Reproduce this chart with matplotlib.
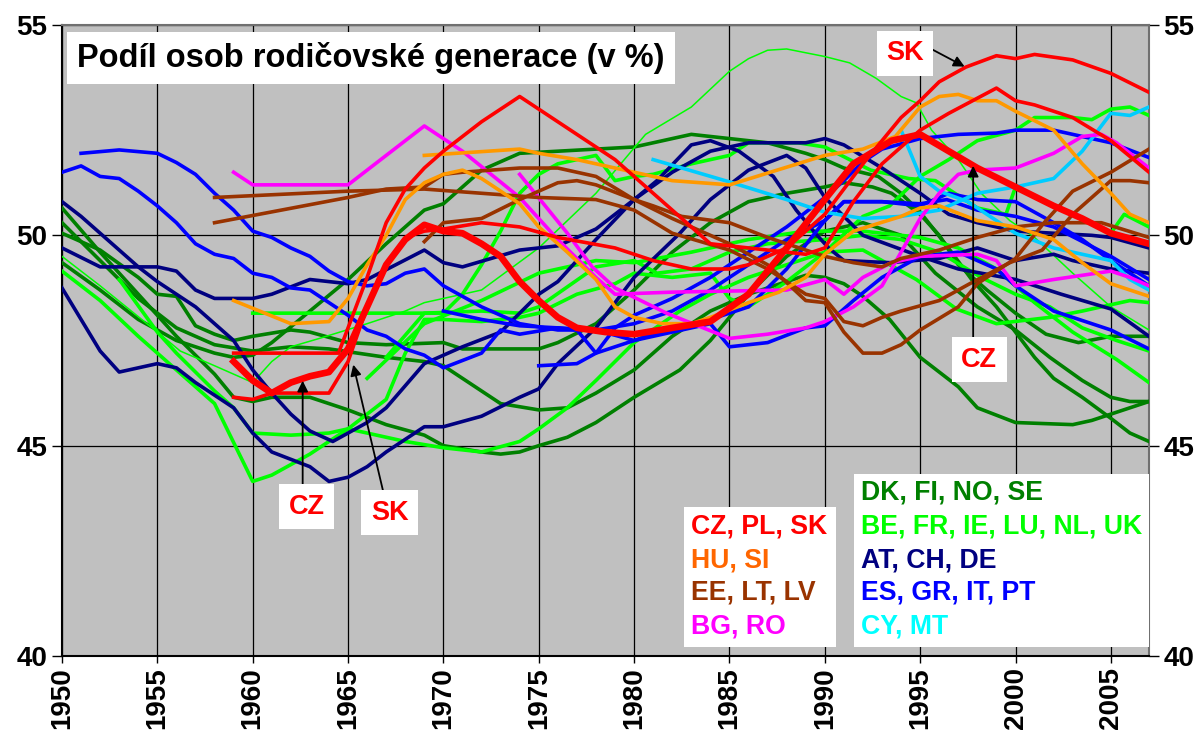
import matplotlib
matplotlib.use('Agg')
import matplotlib.pyplot as plt
from matplotlib.patches import Rectangle

plt.rcParams['font.family'] = ['Liberation Sans', 'DejaVu Sans']

# red group: CZ, PL, SK
cz_years = [1959, 1960, 1961, 1962, 1963, 1964, 1965, 1966, 1967, 1968, 1969, 1970, 1971, 1972, 1973, 1974, 1975, 1976, 1977, 1978.5, 1980, 1982, 1984, 1986, 1988, 1990, 1991.5, 1993.5, 1995, 1996.5, 1998, 2000, 2002, 2003.5, 2005, 2007]
cz_vals = [47.0, 46.55, 46.25, 46.5, 46.65, 46.75, 47.3, 48.3, 49.3, 49.9, 50.25, 50.1, 50.05, 49.8, 49.5, 48.9, 48.45, 48.05, 47.8, 47.7, 47.65, 47.8, 47.95, 48.6, 49.7, 50.85, 51.7, 52.25, 52.4, 52.0, 51.6, 51.15, 50.7, 50.4, 50.05, 49.8]
sk_years = [1959, 1960, 1961, 1962, 1963, 1964, 1965, 1966, 1967, 1968, 1969, 1970, 1972, 1974, 1976, 1979, 1981, 1983, 1985, 1986, 1988, 1990, 1992, 1994, 1995, 1996, 1997.4, 1999, 2000, 2001, 2003, 2005, 2007]
sk_vals = [46.15, 46.1, 46.25, 46.25, 46.25, 46.25, 47.0, 48.3, 49.3, 49.95, 50.1, 50.15, 50.3, 50.2, 49.95, 49.7, 49.4, 49.2, 49.2, 49.3, 49.7, 50.5, 51.7, 52.8, 53.2, 53.65, 54.0, 54.27, 54.2, 54.3, 54.17, 53.85, 53.4]
pl_years = [1959, 1964.5, 1966, 1967, 1968, 1969, 1970, 1972, 1974, 1977, 1979, 1981, 1983, 1984, 1986, 1989, 1990, 1991.5, 1993, 1995, 1996.5, 1999, 2000, 2001, 2003, 2005, 2007]
pl_vals = [47.2, 47.2, 49.0, 50.3, 51.1, 51.6, 52.0, 52.7, 53.3, 52.4, 51.8, 51.0, 50.2, 49.8, 49.7, 49.55, 49.7, 50.8, 51.7, 52.5, 52.9, 53.5, 53.2, 53.1, 52.8, 52.25, 51.5]

# orange group: HU, SI
or1_years = [1959, 1962, 1964, 1965, 1966, 1967, 1968, 1969, 1970, 1971, 1972, 1974, 1975, 1976.5, 1978, 1979, 1980, 1981.5, 1983, 1984, 1986, 1987.6, 1989, 1990, 1991.5, 1994, 1995, 1996, 1998, 2000, 2002, 2003.5, 2005, 2007]
or1_vals = [48.45, 47.9, 47.95, 48.5, 49.3, 50.0, 50.85, 51.25, 51.45, 51.55, 51.35, 50.75, 50.2, 49.6, 48.95, 48.3, 48.05, 47.9, 47.9, 48.05, 48.4, 48.65, 49.0, 49.55, 50.1, 50.45, 50.65, 50.7, 50.35, 50.2, 49.9, 49.35, 48.85, 48.55]
or2_years = [1969, 1974, 1975, 1977, 1979, 1981, 1982, 1985, 1987.5, 1990, 1992, 1993.7, 1995, 1996, 1997, 1998, 1999, 2000, 2002, 2003.5, 2005, 2006, 2007]
or2_vals = [51.9, 52.05, 51.95, 51.8, 51.6, 51.4, 51.3, 51.2, 51.55, 51.9, 52.05, 52.35, 53.05, 53.3, 53.35, 53.2, 53.2, 52.95, 52.5, 51.7, 51.0, 50.5, 50.3]

# brown group: EE, LT, LV
br1_years = [1958, 1965, 1967, 1969, 1970, 1971, 1974, 1976, 1978, 1980, 1981, 1982.5, 1985, 1987, 1989, 1990, 1991.5, 1993, 1994, 1996, 1998, 2000, 2002, 2004.5, 2007]
br1_vals = [50.3, 50.9, 51.1, 51.15, 51.45, 51.5, 51.6, 51.6, 51.4, 50.85, 50.7, 50.45, 50.3, 49.95, 49.65, 49.5, 49.35, 49.25, 49.45, 49.65, 49.95, 50.2, 50.3, 50.3, 49.95]
br2_years = [1958, 1965, 1969, 1972, 1975, 1978, 1980, 1982, 1985, 1987, 1989, 1990, 1991, 1992, 1993, 1994, 1996, 1997.6, 1999.7, 2001.4, 2003, 2005, 2006, 2007]
br2_vals = [50.9, 51.05, 51.1, 51.0, 50.9, 50.85, 50.6, 50.05, 49.65, 49.2, 48.6, 48.5, 47.95, 47.85, 48.05, 48.2, 48.45, 48.85, 49.35, 49.65, 50.5, 51.3, 51.3, 51.25]
br3_years = [1969, 1970, 1972, 1974, 1976, 1977, 1978, 1980, 1982, 1985, 1987, 1989, 1990, 1991, 1992, 1993, 1994, 1995, 1997, 1998, 2000, 2001.5, 2003, 2005, 2007]
br3_vals = [49.85, 50.3, 50.4, 50.85, 51.25, 51.3, 51.2, 50.85, 50.4, 49.8, 49.3, 48.45, 48.4, 47.7, 47.2, 47.2, 47.4, 47.75, 48.3, 48.85, 49.45, 50.3, 51.05, 51.5, 52.05]

# magenta group: BG, RO
mg1_years = [1959, 1960, 1965, 1969, 1971, 1974, 1976, 1978, 1979, 1982, 1988, 1990, 1991, 1992, 1993.5, 1995, 1998, 1999, 2000, 2002, 2005, 2006, 2007]
mg1_vals = [51.5, 51.2, 51.2, 52.6, 52.0, 50.9, 49.9, 49.0, 48.6, 48.65, 48.7, 48.95, 48.6, 49.0, 49.35, 49.5, 49.55, 49.4, 48.8, 48.95, 49.15, 49.0, 48.8]
mg2_years = [1974, 1976.5, 1977.8, 1979, 1981.7, 1985, 1987, 1989, 1990, 1991.5, 1993, 1994, 1995, 1996, 1997, 1998, 2000, 2002, 2003.5, 2004.5, 2005.3, 2007]
mg2_vals = [51.45, 50.05, 49.25, 48.75, 48.15, 47.55, 47.65, 47.8, 47.95, 48.3, 48.8, 49.6, 50.4, 51.0, 51.45, 51.55, 51.6, 51.95, 52.35, 52.4, 52.2, 51.6]

# cyan group: CY, MT
cy1_years = [1981, 1985, 1988, 1990, 1992, 1994, 1996, 1998, 2000, 2002, 2003.5, 2005, 2006, 2007]
cy1_vals = [51.8, 51.27, 50.85, 50.55, 50.4, 50.45, 50.6, 51.0, 51.15, 51.35, 52.0, 52.9, 52.85, 53.05]
cy2_years = [1994, 1995, 1996, 1997.5, 2000, 2002, 2003.5, 2005, 2006, 2007]
cy2_vals = [52.5, 51.4, 51.05, 50.8, 50.05, 49.7, 49.55, 49.4, 48.95, 48.7]

# navy group: AT, CH, DE
nv1_years = [1950, 1951, 1952, 1953, 1954, 1955, 1956, 1957, 1958, 1959, 1960, 1961, 1962, 1963, 1964.2, 1965, 1966, 1967, 1969, 1971, 1973, 1975, 1976, 1978, 1980, 1981.2, 1983, 1984, 1985.5, 1987.3, 1988.5, 1989.5, 1990.2, 1991, 1993.4, 1996, 1998, 2000, 2002, 2003, 2005, 2007]
nv1_vals = [50.8, 50.45, 50.05, 49.65, 49.25, 48.9, 48.6, 48.3, 47.9, 47.5, 46.8, 46.25, 45.75, 45.35, 45.1, 45.3, 45.55, 45.9, 46.95, 47.35, 47.7, 48.6, 48.9, 49.9, 50.85, 51.3, 52.15, 52.25, 52.0, 51.4, 50.6, 50.05, 49.7, 49.4, 49.35, 49.45, 49.7, 49.4, 49.55, 49.4, 49.2, 49.1]
nv2_years = [1950, 1952, 1955, 1956, 1957, 1958, 1960, 1961, 1963, 1965, 1966, 1969, 1970, 1971, 1974, 1976, 1978, 1980, 1982, 1984, 1986, 1989, 1990, 1991, 1993, 1995, 1996.5, 1998, 2000, 2002, 2004, 2005, 2007]
nv2_vals = [49.7, 49.25, 49.25, 49.15, 48.7, 48.5, 48.5, 48.6, 48.95, 48.85, 48.95, 49.65, 49.35, 49.25, 49.65, 49.75, 50.15, 50.85, 51.5, 52.0, 52.2, 52.2, 52.3, 52.15, 51.6, 51.0, 50.5, 50.3, 50.1, 50.05, 50.0, 49.95, 49.7]
nv3_years = [1950, 1952, 1953, 1955, 1956, 1957, 1959, 1960, 1961, 1963, 1964, 1965, 1966, 1967, 1969, 1970, 1972, 1974, 1975, 1976, 1978, 1980, 1982.4, 1984, 1986, 1988, 1989, 1990, 1992, 1995, 1997, 2000, 2002.4, 2005, 2007]
nv3_vals = [48.75, 47.25, 46.75, 46.95, 46.85, 46.5, 45.9, 45.3, 44.85, 44.5, 44.15, 44.25, 44.5, 44.85, 45.45, 45.45, 45.7, 46.15, 46.35, 46.95, 47.8, 49.0, 50.05, 50.85, 51.55, 51.9, 51.6, 50.9, 50.0, 49.5, 49.2, 48.95, 48.6, 48.25, 47.6]

# blue group: ES, GR, IT, PT
bl1_years = [1950, 1951, 1952, 1953, 1954, 1955, 1956, 1957, 1958, 1959, 1960, 1961, 1962, 1963, 1964, 1965, 1966, 1967, 1968, 1969, 1970, 1972, 1973, 1974, 1976, 1978, 1980, 1982, 1984, 1985, 1987, 1989, 1990, 1991.5, 1993, 1995, 1997, 1999, 2000, 2002, 2004, 2005, 2007]
bl1_vals = [51.5, 51.65, 51.4, 51.35, 51.05, 50.7, 50.3, 49.8, 49.55, 49.45, 49.1, 49.0, 48.75, 48.7, 48.4, 48.1, 47.75, 47.6, 47.3, 47.15, 46.85, 47.2, 47.75, 47.65, 47.8, 47.75, 47.5, 47.7, 47.9, 47.35, 47.45, 47.8, 47.85, 48.45, 49.0, 49.5, 49.6, 49.2, 48.8, 48.2, 47.9, 47.75, 47.3]
bl2_years = [1951, 1953, 1955, 1956, 1957, 1958, 1959, 1960, 1961, 1962, 1963, 1964, 1965, 1966, 1967, 1968, 1969, 1970, 1972, 1974, 1976, 1978, 1980, 1982, 1984, 1986, 1988, 1990, 1991, 1993, 1995, 1996.4, 1998, 2000, 2002, 2003.3, 2005, 2007]
bl2_vals = [51.95, 52.03, 51.95, 51.73, 51.45, 51.0, 50.6, 50.1, 49.95, 49.7, 49.5, 49.15, 48.9, 48.8, 48.85, 49.1, 49.2, 48.8, 48.3, 47.9, 47.75, 47.75, 47.9, 48.2, 48.7, 49.3, 49.9, 50.35, 50.8, 50.8, 50.75, 50.85, 50.6, 50.45, 50.2, 49.9, 49.5, 48.95]
bl3_years = [1970, 1972, 1974, 1976, 1977, 1978, 1979, 1980, 1982, 1984, 1986, 1988, 1990, 1991, 1992, 1993, 1995, 1997, 1999, 2000, 2002, 2003, 2005, 2007]
bl3_vals = [48.2, 48.0, 47.85, 47.8, 47.75, 47.2, 47.8, 48.1, 48.5, 49.0, 49.6, 50.2, 50.9, 51.3, 51.75, 52.05, 52.3, 52.4, 52.43, 52.5, 52.5, 52.4, 52.2, 51.85]
bl4_years = [1975, 1977, 1978, 1980, 1982, 1984, 1986, 1988, 1990, 1991, 1993, 1995, 1996.5, 1998, 2000, 2002, 2003.5, 2005, 2007]
bl4_vals = [46.9, 46.95, 47.2, 47.5, 47.8, 48.0, 48.3, 49.2, 50.35, 50.8, 50.8, 50.7, 51.0, 50.85, 50.8, 50.3, 49.9, 49.4, 48.8]

# dark green group: DK, FI, NO, SE
dg1_years = [1950, 1952, 1954, 1956, 1958, 1959, 1960, 1961, 1963, 1965, 1967, 1969, 1970, 1972, 1974, 1976, 1980, 1981, 1983, 1985, 1987, 1989, 1990, 1991, 1992.8, 1994, 1995, 1996.4, 1997.7, 1999, 2000, 2001, 2002, 2003.5, 2005, 2006, 2007]
dg1_vals = [49.35, 48.7, 48.0, 47.5, 47.2, 47.1, 47.15, 47.45, 48.2, 48.95, 49.8, 50.6, 50.75, 51.55, 51.95, 52.0, 52.1, 52.2, 52.4, 52.3, 52.2, 51.95, 51.8, 51.6, 51.4, 51.0, 50.55, 49.75, 48.95, 48.3, 47.7, 47.1, 46.6, 46.15, 45.65, 45.3, 45.1]
dg2_years = [1950, 1952, 1954, 1955, 1956, 1957, 1958, 1959, 1960, 1962, 1963, 1965, 1967, 1970, 1971, 1975, 1976, 1978, 1980, 1982, 1984, 1986, 1988, 1990, 1991, 1992.5, 1993.5, 1995, 1996, 1997, 1998.5, 2000, 2001.6, 2003.3, 2005, 2007]
dg2_vals = [50.05, 49.65, 49.0, 48.6, 48.55, 47.85, 47.65, 47.5, 47.6, 47.75, 47.7, 47.45, 47.4, 47.45, 47.3, 47.3, 47.45, 47.9, 48.7, 49.6, 50.3, 50.8, 51.0, 51.15, 51.25, 51.15, 51.0, 50.5, 50.0, 49.3, 48.7, 48.15, 47.65, 47.45, 47.6, 47.6]
dg3_years = [1950, 1952, 1954, 1956, 1958, 1960, 1962, 1964, 1967, 1969, 1970, 1972, 1973, 1975, 1976.5, 1978, 1980, 1982, 1984, 1986, 1988, 1989, 1990, 1991, 1992, 1993.4, 1995, 1997, 1998, 2000, 2003, 2004, 2005, 2006, 2007]
dg3_vals = [50.3, 49.4, 48.5, 47.8, 47.4, 47.25, 47.35, 47.3, 47.1, 47.0, 46.9, 46.3, 46.0, 45.85, 45.9, 46.25, 46.8, 47.6, 48.2, 48.6, 48.9, 49.05, 49.0, 48.85, 48.55, 48.0, 47.1, 46.4, 45.9, 45.55, 45.5, 45.6, 45.75, 45.9, 46.05]
dg4_years = [1950, 1952, 1954, 1956, 1958, 1959, 1960, 1961, 1963, 1965, 1967, 1969, 1970, 1972, 1973, 1974, 1975, 1976.5, 1978, 1980, 1982.4, 1984, 1986, 1988, 1990, 1992, 1994, 1995.8, 1998, 2000, 2001.8, 2003.5, 2005, 2006, 2007]
dg4_vals = [50.65, 49.6, 48.6, 47.6, 46.7, 46.15, 46.05, 46.15, 46.15, 45.85, 45.5, 45.25, 45.0, 44.85, 44.8, 44.85, 45.0, 45.2, 45.55, 46.15, 46.8, 47.5, 48.6, 49.5, 50.1, 50.3, 50.0, 49.1, 48.3, 47.75, 47.1, 46.55, 46.15, 46.05, 46.05]

# bright green group: BE, FR, IE, LU, NL, UK
bgt_years = [1950, 1952, 1955, 1956.2, 1958, 1960, 1961, 1962, 1963.5, 1966, 1968, 1969, 1972, 1975, 1978, 1980.6, 1983, 1985, 1986, 1987, 1988, 1990, 1991.3, 1992.7, 1994, 1994.8, 1995.6, 1997, 1998.2, 1999.7, 2001, 2003, 2005, 2007]
bgt_vals = [49.5, 48.8, 47.7, 47.25, 46.9, 46.5, 47.0, 47.35, 47.55, 47.9, 48.2, 48.4, 48.7, 49.7, 51.0, 52.4, 53.05, 53.9, 54.2, 54.4, 54.43, 54.25, 54.1, 53.73, 53.3, 53.15, 52.5, 51.8, 51.0, 50.35, 49.95, 49.1, 48.3, 47.75]
bg1_years = [1950, 1952, 1954, 1956, 1958, 1960, 1961, 1963, 1964, 1965, 1967, 1968, 1969, 1970, 1972, 1974, 1975, 1977, 1979, 1980, 1982, 1984, 1985, 1986, 1988, 1990, 1992, 1993.4, 1995, 1996.5, 1998, 2000, 2001, 2003, 2004, 2005, 2006, 2007]
bg1_vals = [49.15, 48.45, 47.6, 46.8, 46.0, 44.15, 44.3, 44.8, 45.1, 45.4, 46.1, 47.2, 48.0, 48.0, 47.95, 48.05, 48.15, 48.6, 48.85, 49.1, 49.0, 49.1, 48.5, 48.3, 48.9, 49.6, 50.45, 50.7, 51.4, 51.8, 52.25, 52.5, 52.8, 52.8, 52.75, 53.0, 53.05, 52.85]
bg2_years = [1953, 1955, 1956, 1958, 1959, 1960, 1962, 1964, 1965, 1966, 1968, 1970, 1972, 1974, 1975, 1976.5, 1978, 1980, 1982.4, 1984, 1986, 1988, 1990, 1992, 1994.8, 1996.9, 1999, 2001.8, 2003.5, 2006, 2007]
bg2_vals = [48.95, 47.7, 47.2, 46.3, 45.9, 45.3, 45.25, 45.3, 45.4, 45.3, 45.1, 44.95, 44.85, 45.1, 45.4, 45.9, 46.55, 47.45, 48.2, 48.6, 49.0, 49.3, 49.6, 49.65, 48.95, 48.25, 47.9, 48.05, 48.2, 48.45, 48.4]
bg3_years = [1960, 1965, 1970, 1971, 1972, 1973, 1974, 1975, 1976, 1978, 1979, 1980, 1981, 1983, 1985, 1986, 1988.6, 1990, 1991.3, 1992.4, 1994.4, 1995.8, 1998, 1999.5, 2000, 2002, 2003.5, 2005, 2005.7, 2007]
bg3_vals = [48.15, 48.15, 48.15, 48.6, 49.3, 50.1, 51.0, 51.45, 51.7, 51.9, 51.3, 51.4, 51.45, 51.7, 51.9, 52.2, 52.2, 52.1, 51.8, 51.55, 51.35, 51.3, 50.65, 50.5, 51.15, 50.7, 50.4, 50.05, 50.5, 50.2]
bg4_years = [1967, 1969, 1972, 1974, 1975, 1978, 1980, 1981.2, 1983, 1985, 1987, 1990, 1992, 1994, 1996, 1998.2, 2000, 2001.8, 2003.5, 2005.3, 2007]
bg4_vals = [47.1, 48.15, 48.2, 48.15, 48.3, 49.25, 49.4, 49.1, 49.2, 49.6, 49.8, 49.9, 50.0, 49.9, 49.6, 49.0, 48.6, 48.3, 47.8, 47.5, 47.25]
bg5_years = [1966, 1969, 1972, 1975, 1978, 1980, 1983, 1986, 1989, 1992, 1995, 1997, 1999, 2001, 2003, 2005.3, 2007]
bg5_vals = [46.6, 47.9, 48.45, 49.1, 49.4, 49.35, 49.6, 49.9, 50.1, 50.1, 49.95, 49.7, 49.2, 48.4, 47.7, 47.05, 46.5]

year_ticks = list(range(1950, 2006, 5))
value_ticks = [40, 45, 50, 55]

legend_left = ['CZ, PL, SK', 'HU, SI', 'EE, LT, LV', 'BG, RO']
legend_left_colors = ['#FF0000', '#FF6600', '#993300', '#FF00FF']
legend_right = ['DK, FI, NO, SE', 'BE, FR, IE, LU, NL, UK', 'AT, CH, DE', 'ES, GR, IT, PT', 'CY, MT']
legend_right_colors = ['#008000', '#00FF00', '#000080', '#0000FF', '#00FFFF']

RED, ORANGE, BROWN, MAG, CYAN = '#FF0000', '#FF9900', '#993300', '#FF00FF', '#00CCFF'
DKGREEN, GREEN, NAVY, BLUE = '#008000', '#00FF00', '#000080', '#0000FF'

series = [
    (dg1_years, dg1_vals, DKGREEN, 2.6), (dg2_years, dg2_vals, DKGREEN, 2.6),
    (dg3_years, dg3_vals, DKGREEN, 2.6), (dg4_years, dg4_vals, DKGREEN, 2.6),
    (bgt_years, bgt_vals, GREEN, 1.1), (bg1_years, bg1_vals, GREEN, 2.6),
    (bg2_years, bg2_vals, GREEN, 2.6), (bg3_years, bg3_vals, GREEN, 2.6),
    (bg4_years, bg4_vals, GREEN, 2.6), (bg5_years, bg5_vals, GREEN, 2.6),
    (nv1_years, nv1_vals, NAVY, 2.6), (nv2_years, nv2_vals, NAVY, 2.6),
    (nv3_years, nv3_vals, NAVY, 2.6),
    (bl1_years, bl1_vals, BLUE, 2.6), (bl2_years, bl2_vals, BLUE, 2.6),
    (bl3_years, bl3_vals, BLUE, 2.6), (bl4_years, bl4_vals, BLUE, 2.6),
    (cy1_years, cy1_vals, CYAN, 2.6), (cy2_years, cy2_vals, CYAN, 2.6),
    (mg1_years, mg1_vals, MAG, 2.6), (mg2_years, mg2_vals, MAG, 2.6),
    (br1_years, br1_vals, BROWN, 2.6), (br2_years, br2_vals, BROWN, 2.6),
    (br3_years, br3_vals, BROWN, 2.6),
    (or1_years, or1_vals, ORANGE, 2.6), (or2_years, or2_vals, ORANGE, 2.6),
    (pl_years, pl_vals, RED, 2.6), (sk_years, sk_vals, RED, 2.6),
    (cz_years, cz_vals, RED, 4.8),
]

fig = plt.figure(figsize=(12.02, 7.36), dpi=100)
ax = fig.add_axes([62 / 1202, 80 / 736, 1087 / 1202, 631 / 736])
ax.set_facecolor('#C0C0C0')

for xs, ys, c, lw in series:
    ax.plot(xs, ys, color=c, lw=lw, solid_joinstyle='round', zorder=3)

ax.set_xlim(1950, 2007)
ax.set_ylim(40, 55)
ax.set_xticks(year_ticks)
ax.set_yticks(value_ticks)
ax.grid(True, color='black', lw=0.9)
ax.set_axisbelow(True)
ax.tick_params(axis='y', direction='out', length=7, width=1, right=True, labelright=True, labelsize=20)
ax.tick_params(axis='x', direction='out', length=5, width=1, labelsize=20, labelrotation=90, pad=3)
for lab in ax.get_xticklabels() + ax.get_yticklabels():
    lab.set_fontweight('bold')
for t in ax.yaxis.get_major_ticks():
    t.label2.set_fontweight('bold')
for s in ['left', 'bottom']:
    ax.spines[s].set_color('black')
    ax.spines[s].set_linewidth(1.5)
for s in ['top', 'right']:
    ax.spines[s].set_color('#707070')
    ax.spines[s].set_linewidth(1.5)

# title box
ax.text(1950.8, 54.22, 'Podíl osob rodičovské generace (v %)', fontsize=23.5, fontweight='bold',
        va='center', ha='left', zorder=6,
        bbox=dict(boxstyle='square,pad=0.3', fc='white', ec='none'))

# legend boxes
ax.add_patch(Rectangle((1982.63, 40.21), 7.97, 3.33, fc='white', ec='none', zorder=6))
ax.add_patch(Rectangle((1991.54, 40.21), 15.46, 4.12, fc='white', ec='none', zorder=6))
for lab, c, yv in zip(legend_left, legend_left_colors, [43.07, 42.26, 41.5, 40.69]):
    ax.text(1983.0, yv, lab, color=c, fontsize=19.2, fontweight='bold', va='center', zorder=7)
for lab, c, yv in zip(legend_right, legend_right_colors, [43.88, 43.07, 42.28, 41.5, 40.69]):
    ax.text(1991.9, yv, lab, color=c, fontsize=19.2, fontweight='bold', va='center', zorder=7)

# country labels with arrows
box = dict(boxstyle='square,pad=0.35', fc='white', ec='none')
arrow = dict(arrowstyle='-|>', color='black', lw=1.3, mutation_scale=16)
ax.annotate('', xy=(1962.62, 46.61), xytext=(1962.62, 43.95), arrowprops=arrow, zorder=5)
ax.text(1962.83, 43.55, 'CZ', color='red', fontsize=19.5, fontweight='bold', ha='center', va='center', bbox=box, zorder=6)
ax.annotate('', xy=(1965.24, 46.99), xytext=(1966.9, 43.8), arrowprops=arrow, zorder=5)
ax.text(1967.18, 43.4, 'SK', color='red', fontsize=19.5, fontweight='bold', ha='center', va='center', bbox=box, zorder=6)
ax.annotate('', xy=(1997.46, 53.98), xytext=(1995.5, 54.45), arrowprops=arrow, zorder=5)
ax.text(1994.2, 54.33, 'SK', color='red', fontsize=19.5, fontweight='bold', ha='center', va='center', bbox=box, zorder=6)
ax.annotate('', xy=(1997.78, 51.72), xytext=(1997.78, 47.5), arrowprops=arrow, zorder=5)
ax.text(1998.09, 47.04, 'CZ', color='red', fontsize=19.5, fontweight='bold', ha='center', va='center', bbox=box, zorder=6)

fig.savefig('out.png', dpi=100)
